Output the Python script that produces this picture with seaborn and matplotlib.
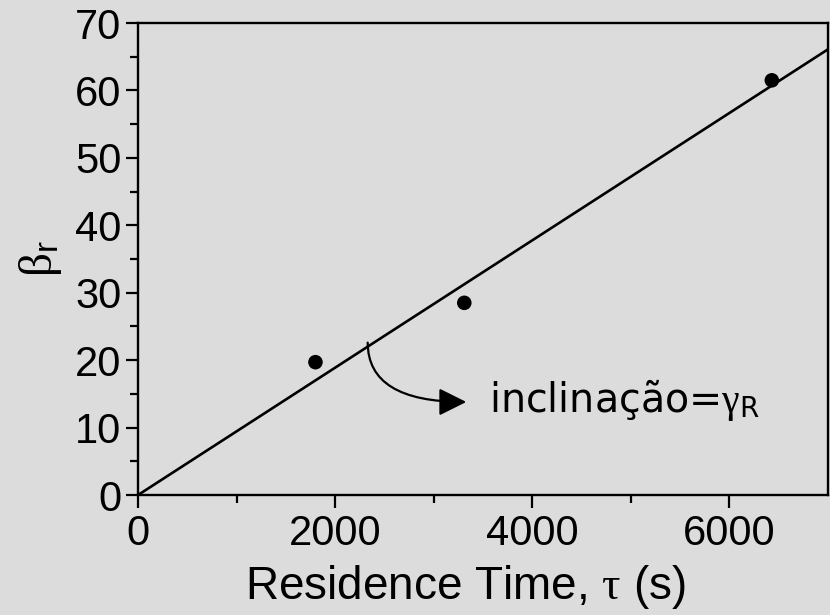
import numpy as np
import pandas as pd
import matplotlib
matplotlib.use("Agg")
import matplotlib.pyplot as plt
import seaborn as sns

# data
tau_s = [1800, 3310, 6430]
beta_r = [19.7, 28.5, 61.5]
fit_tau = [0, 7000]
fit_beta = [0, 66.1]
xticks = [0, 2000, 4000, 6000]
yticks = [0, 10, 20, 30, 40, 50, 60, 70]

sns.set_theme(style="ticks")
plt.rcParams["font.family"] = ["Liberation Sans", "DejaVu Sans"]
plt.rcParams["mathtext.fontset"] = "custom"
plt.rcParams["mathtext.it"] = "Liberation Serif"
plt.rcParams["mathtext.rm"] = "DejaVu Sans"
plt.rcParams["mathtext.sf"] = "Liberation Sans"

bg = "#dcdcdc"
fig = plt.figure(figsize=(8.3, 6.15), dpi=100, facecolor=bg)
ax = fig.add_axes([0.1663, 0.1951, 0.8313, 0.7675])
ax.set_facecolor(bg)

pts = pd.DataFrame({"tau": tau_s, "beta": beta_r})
fit = pd.DataFrame({"tau": fit_tau, "beta": fit_beta})
sns.lineplot(data=fit, x="tau", y="beta", ax=ax, color="black", lw=1.9)
sns.scatterplot(data=pts, x="tau", y="beta", ax=ax, color="black", s=110,
                edgecolor="none", zorder=5)

ax.set_xlim(0, 7000)
ax.set_ylim(0, 70)
ax.set_xticks(xticks)
ax.set_yticks(yticks)
ax.set_xticks(np.arange(1000, 7000, 2000), minor=True)
ax.set_yticks(np.arange(5, 70, 10), minor=True)
ax.tick_params(axis="both", which="major", length=9, width=1.6, labelsize=30,
               color="black", labelcolor="black", pad=3)
ax.tick_params(axis="both", which="minor", length=5.5, width=1.6, color="black")
ax.tick_params(axis="x", pad=5)
for s in ax.spines.values():
    s.set_linewidth(1.7)
    s.set_color("black")
    s.set_visible(True)

ax.set_xlabel(r"Residence Time, $\tau$ (s)", fontsize=33, color="black")
ax.xaxis.set_label_coords(0.475, -0.145)
ax.set_ylabel(r"$\beta_\mathsf{r}$", fontsize=34, color="black", labelpad=8)

ax.annotate("", xy=(3330, 13.8), xytext=(2330, 22.6),
            arrowprops=dict(arrowstyle="-|>", color="black", lw=1.6,
                            mutation_scale=42, shrinkA=0, shrinkB=0,
                            connectionstyle="angle3,angleA=-90,angleB=0"))
ax.text(3560, 12.3, r"inclinação=$\gamma_\mathrm{R}$", fontsize=28.5,
        family="DejaVu Sans", color="black", va="baseline", ha="left")

fig.savefig("out.png", dpi=100, facecolor=bg)
